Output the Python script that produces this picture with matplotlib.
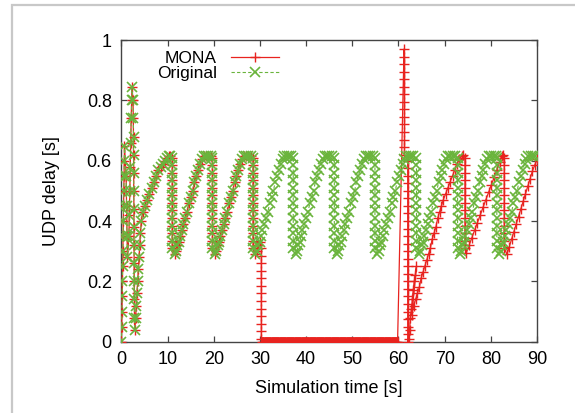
import matplotlib.pyplot as plt
from matplotlib.patches import Rectangle

plt.rcParams['font.family'] = ['Liberation Sans', 'DejaVu Sans']

# start-up burst (both runs identical here)
startup_t = [0.0, 0.05, 0.1, 0.15, 0.2, 0.25, 0.3, 0.35, 0.4, 0.45, 0.5, 0.55, 0.6, 0.65,
             1.0, 1.1, 1.2, 1.3,
             1.6, 1.7, 1.8, 1.9, 2.0, 2.1, 2.2, 2.25,
             2.5, 2.55, 2.6, 2.6, 2.65, 2.65, 2.7, 2.7, 2.7, 2.75, 2.75, 2.8, 2.8, 2.85,
             3.05, 3.2, 3.35, 3.5, 3.65, 3.8, 3.95, 4.1, 4.3, 4.6, 5.0, 5.5,
             6.0, 6.5, 7.0, 7.5, 8.0, 8.5, 9.0, 9.4, 9.8, 10.2, 10.6]
startup_d = [0.0, 0.05, 0.1, 0.15, 0.2, 0.25, 0.3, 0.35, 0.4, 0.45, 0.5, 0.55, 0.6, 0.65,
             0.55, 0.45, 0.35, 0.28,
             0.35, 0.42, 0.5, 0.58, 0.66, 0.74, 0.8, 0.845,
             0.8, 0.74, 0.68, 0.62, 0.56, 0.5, 0.44, 0.38, 0.32, 0.26, 0.2, 0.14, 0.08, 0.04,
             0.08, 0.12, 0.16, 0.20, 0.24, 0.28, 0.32, 0.36, 0.40, 0.43, 0.45, 0.47,
             0.49, 0.51, 0.53, 0.55, 0.57, 0.58, 0.59, 0.60, 0.61, 0.615, 0.615]

# queue drops: vertical runs of samples at these times / delay levels
drop_t = [11.0, 19.7, 28.5, 37.2, 46.1, 54.9, 63.9, 72.8, 81.3]
drop_d = [0.61, 0.585, 0.56, 0.535, 0.51, 0.485, 0.46, 0.435, 0.41, 0.385, 0.36, 0.335, 0.31]

# ramp after each drop
ramp_d = [0.29, 0.30, 0.32, 0.33, 0.35, 0.37, 0.39, 0.41, 0.43, 0.46, 0.48,
          0.50, 0.53, 0.55, 0.57, 0.59, 0.605, 0.615, 0.615, 0.615, 0.615]
ramp_t = [
    [11.5, 11.8, 12.1, 12.4, 12.7, 13.0, 13.4, 13.8, 14.2, 14.6, 15.0, 15.4, 15.8, 16.2, 16.6, 17.0, 17.4, 17.8, 18.3, 18.8, 19.3],
    [20.2, 20.5, 20.8, 21.1, 21.4, 21.7, 22.1, 22.5, 22.9, 23.3, 23.7, 24.1, 24.5, 24.9, 25.3, 25.7, 26.1, 26.5, 27.0, 27.5, 28.0],
    [29.0, 29.3, 29.6, 29.9, 30.2, 30.5, 30.9, 31.3, 31.7, 32.1, 32.5, 32.9, 33.3, 33.7, 34.1, 34.5, 34.9, 35.3, 35.8, 36.3, 36.8],
    [37.7, 38.0, 38.3, 38.6, 38.9, 39.2, 39.6, 40.0, 40.4, 40.8, 41.2, 41.6, 42.0, 42.4, 42.8, 43.2, 43.6, 44.0, 44.5, 45.0, 45.5],
    [46.6, 46.9, 47.2, 47.5, 47.8, 48.1, 48.5, 48.9, 49.3, 49.7, 50.1, 50.5, 50.9, 51.3, 51.7, 52.1, 52.5, 52.9, 53.4, 53.9, 54.4],
    [55.4, 55.7, 56.0, 56.3, 56.6, 56.9, 57.3, 57.7, 58.1, 58.5, 58.9, 59.3, 59.7, 60.1, 60.5, 60.9, 61.3, 61.7, 62.2, 62.7, 63.2],
    [64.4, 64.7, 65.0, 65.3, 65.6, 65.9, 66.3, 66.7, 67.1, 67.5, 67.9, 68.3, 68.7, 69.1, 69.5, 69.9, 70.3, 70.7, 71.2, 71.7, 72.2],
    [73.3, 73.6, 73.9, 74.2, 74.5, 74.8, 75.2, 75.6, 76.0, 76.4, 76.8, 77.2, 77.6, 78.0, 78.4, 78.8, 79.2, 79.6, 80.1, 80.6, 81.1],
    [81.8, 82.1, 82.4, 82.7, 83.0, 83.3, 83.7, 84.1, 84.5, 84.9, 85.3, 85.7, 86.1, 86.5, 86.9, 87.3, 87.7, 88.1, 88.6, 89.1, 89.6],
]

# MONA after ~29 s
mona_pre_t = [29.0, 29.3, 29.6, 29.9]
mona_pre_d = [0.29, 0.30, 0.32, 0.33]
mona_fall_d = [0.31, 0.285, 0.26, 0.235, 0.21, 0.185, 0.16, 0.135, 0.11, 0.085, 0.06, 0.035, 0.01]
mona_idle_t = [30.5, 30.75, 31.0, 31.25, 31.5, 31.75, 32.0, 32.25, 32.5, 32.75, 33.0, 33.25,
               33.5, 33.75, 34.0, 34.25, 34.5, 34.75, 35.0, 35.25, 35.5, 35.75, 36.0, 36.25,
               36.5, 36.75, 37.0, 37.25, 37.5, 37.75, 38.0, 38.25, 38.5, 38.75, 39.0, 39.25,
               39.5, 39.75, 40.0, 40.25, 40.5, 40.75, 41.0, 41.25, 41.5, 41.75, 42.0, 42.25,
               42.5, 42.75, 43.0, 43.25, 43.5, 43.75, 44.0, 44.25, 44.5, 44.75, 45.0, 45.25,
               45.5, 45.75, 46.0, 46.25, 46.5, 46.75, 47.0, 47.25, 47.5, 47.75, 48.0, 48.25,
               48.5, 48.75, 49.0, 49.25, 49.5, 49.75, 50.0, 50.25, 50.5, 50.75, 51.0, 51.25,
               51.5, 51.75, 52.0, 52.25, 52.5, 52.75, 53.0, 53.25, 53.5, 53.75, 54.0, 54.25,
               54.5, 54.75, 55.0, 55.25, 55.5, 55.75, 56.0, 56.25, 56.5, 56.75, 57.0, 57.25,
               57.5, 57.75, 58.0, 58.25, 58.5, 58.75, 59.0, 59.25, 59.5, 59.75]
mona_idle_d = [0.0] * len(mona_idle_t)
mona_burst_t = [59.8, 61.2] + [61.3] * 14 + [62.0] * 25
mona_burst_d = [0.0, 0.97,
                0.945, 0.92, 0.895, 0.87, 0.845, 0.82, 0.795, 0.77, 0.745, 0.72, 0.695, 0.67, 0.645, 0.62,
                0.60, 0.575, 0.55, 0.525, 0.50, 0.475, 0.45, 0.425, 0.40, 0.375, 0.35, 0.325, 0.30,
                0.275, 0.25, 0.225, 0.20, 0.175, 0.15, 0.125, 0.10, 0.075, 0.05, 0.025, 0.0]
mona_ramp1_t = [62.2, 62.4, 62.6, 62.8, 63.0, 63.2, 63.4, 63.6, 63.9,
                62.9, 63.3, 63.7, 64.1, 64.5, 64.9, 65.3, 65.7, 66.1, 66.5, 66.9, 67.3, 67.7, 68.1,
                68.5, 68.9, 69.3, 69.7, 70.2, 70.7, 71.2, 71.7, 72.2, 72.7, 73.2, 73.7, 74.0]
mona_ramp1_d = [0.01, 0.04, 0.08, 0.11, 0.14, 0.17, 0.20, 0.22, 0.25,
                0.09, 0.12, 0.14, 0.16, 0.18, 0.21, 0.23, 0.25, 0.27, 0.29, 0.31, 0.34, 0.36, 0.38,
                0.41, 0.43, 0.45, 0.47, 0.49, 0.51, 0.53, 0.55, 0.57, 0.59, 0.605, 0.615, 0.62]
mona_ramp2_t = [74.7, 75.3, 75.9, 76.5, 77.1, 77.7, 78.3, 78.9, 79.5, 80.1, 80.7, 81.3, 81.9, 82.4, 82.7]
mona_ramp2_d = [0.295, 0.32, 0.345, 0.37, 0.395, 0.42, 0.445, 0.47, 0.495, 0.52, 0.545, 0.57, 0.595, 0.615, 0.62]
mona_ramp3_t = [83.5, 84.0, 84.5, 85.0, 85.5, 86.0, 86.5, 87.0, 87.5, 88.0, 88.5, 89.0, 89.5, 90.0]
mona_ramp3_d = [0.29, 0.315, 0.34, 0.365, 0.39, 0.415, 0.44, 0.465, 0.49, 0.515, 0.54, 0.565, 0.585, 0.605]
mona_drop_t = [74.4, 82.9]

# build the two series
orig_t, orig_d = list(startup_t), list(startup_d)
for tc, rt in zip(drop_t, ramp_t):
    orig_t += [tc] * len(drop_d) + rt
    orig_d += drop_d + ramp_d

mona_t, mona_d = list(startup_t), list(startup_d)
for tc, rt in zip(drop_t[:2], ramp_t[:2]):
    mona_t += [tc] * len(drop_d) + rt
    mona_d += drop_d + ramp_d
mona_t += [drop_t[2]] * len(drop_d) + mona_pre_t + [30.3] * len(mona_fall_d)
mona_d += drop_d + mona_pre_d + mona_fall_d
mona_t += mona_idle_t + mona_burst_t + mona_ramp1_t
mona_d += mona_idle_d + mona_burst_d + mona_ramp1_d
mona_t += [mona_drop_t[0]] * len(drop_d) + mona_ramp2_t + [mona_drop_t[1]] * len(drop_d) + mona_ramp3_t
mona_d += drop_d + mona_ramp2_d + drop_d + mona_ramp3_d

red = '#e8231f'
green = '#6ab43c'

fig = plt.figure(figsize=(5.75, 4.13), dpi=100)
fig.patches.append(Rectangle((12 / 575, -0.2), 2.0, 1.2 - 5 / 413, transform=fig.transFigure,
                             fill=False, edgecolor='#c8c8c8', lw=1.6))
ax = fig.add_axes([0.2113, 0.1726, 0.7226, 0.7305])

ax.plot(mona_t, mona_d, color=red, lw=0.9, marker='+', ms=6.8, mew=1.0, label='MONA', zorder=3)
# the packed markers at zero merge into a solid band
ax.plot(mona_idle_t, mona_idle_d, color=red, lw=7, solid_capstyle='butt', zorder=3)
ax.plot(orig_t, orig_d, color=green, lw=0.8, ls=(0, (3, 2)), marker='x', ms=6.5, mew=1.2,
        label='Original', zorder=4)

ax.set_xlim(0, 90)
ax.set_ylim(0, 1)
ax.set_xticks(range(0, 91, 10))
ax.set_yticks([0, 0.2, 0.4, 0.6, 0.8, 1])
ax.set_yticklabels(['0', '0.2', '0.4', '0.6', '0.8', '1'])
ax.tick_params(direction='in', length=4, width=0.9, color='#444444', labelsize=13,
               top=True, right=True, pad=7)
for s in ax.spines.values():
    s.set_color('#444444')
    s.set_linewidth(1.0)
    s.set_zorder(2)

ax.set_xlabel('Simulation time [s]', fontsize=13, labelpad=8)
ax.set_ylabel('UDP delay [s]', fontsize=13, labelpad=19)

ax.legend(loc='upper left', bbox_to_anchor=(0.085, 0.965), frameon=False, markerfirst=False,
          fontsize=12.5, handlelength=2.8, handletextpad=0.8, labelspacing=0.0,
          borderpad=0, borderaxespad=0, numpoints=1)

fig.savefig('out.png', dpi=100)
